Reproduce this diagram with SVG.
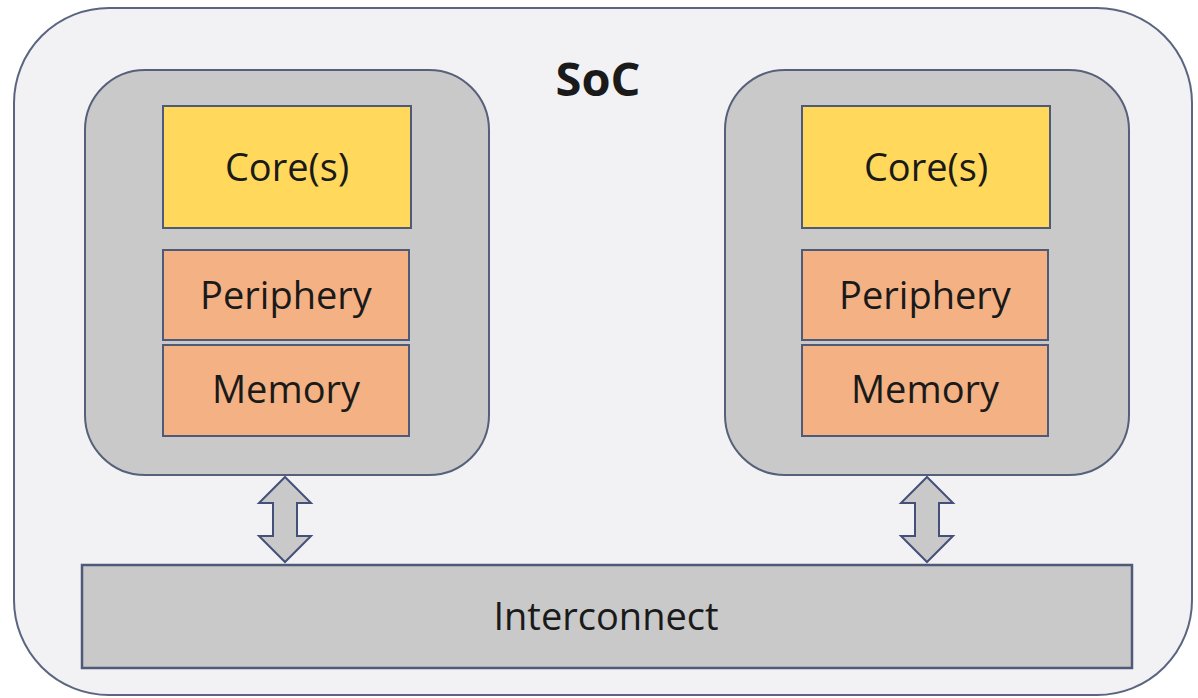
<svg xmlns="http://www.w3.org/2000/svg" width="1198" height="698" viewBox="0 0 1198 698">
<style>
  .soc { fill: #f2f2f4; stroke: #5b6580; stroke-width: 2; }
  .sub { fill: #c9c9c9; stroke: #56607a; stroke-width: 2; }
  .core { fill: #ffd85c; stroke: #4f5a78; stroke-width: 2; }
  .mem { fill: #f4b183; stroke: #4f5a78; stroke-width: 2; }
  .ic { fill: #c9c9c9; stroke: #4f5a78; stroke-width: 2.5; }
  .arrow { fill: #c9c9c9; stroke: #44507a; stroke-width: 2; stroke-linejoin: miter; }
  text { font-family: "Open Sans", "Noto Sans", sans-serif; fill: #1a1a1a; text-anchor: middle; dominant-baseline: central; }
  .lbl { font-size: 38px; }
  .title { font-size: 47px; font-weight: bold; }
</style>
<g id="soc">
  <rect class="soc" x="14" y="8" width="1178" height="687" rx="95" ry="95"/>
  <text class="title" x="598" y="78">SoC</text>
</g>
<g id="subsystem-left">
  <rect class="sub" x="85" y="70" width="404" height="405" rx="60" ry="60"/>
</g>
<g id="core-left">
  <rect class="core" x="163" y="106" width="248" height="122"/>
  <text class="lbl" x="287" y="166">Core(s)</text>
</g>
<g id="periphery-left">
  <rect class="mem" x="163" y="250" width="246" height="90"/>
  <text class="lbl" x="286" y="294">Periphery</text>
</g>
<g id="memory-left">
  <rect class="mem" x="163" y="345" width="246" height="91"/>
  <text class="lbl" x="286" y="388">Memory</text>
</g>
<g id="subsystem-right">
  <rect class="sub" x="725" y="70" width="404" height="405" rx="60" ry="60"/>
</g>
<g id="core-right">
  <rect class="core" x="802" y="106" width="248" height="122"/>
  <text class="lbl" x="926" y="166">Core(s)</text>
</g>
<g id="periphery-right">
  <rect class="mem" x="802" y="250" width="246" height="90"/>
  <text class="lbl" x="925" y="294">Periphery</text>
</g>
<g id="memory-right">
  <rect class="mem" x="802" y="345" width="246" height="91"/>
  <text class="lbl" x="925" y="388">Memory</text>
</g>
<g id="interconnect">
  <rect class="ic" x="82" y="565" width="1050" height="103"/>
  <text class="lbl" x="606" y="615">Interconnect</text>
</g>
<g id="connectors">
  <path class="arrow" d="M285,477 L311,503 L297,503 L297,536 L311,536 L285,562 L259,536 L273,536 L273,503 L259,503 Z"/>
  <path class="arrow" d="M927,477 L953,503 L939,503 L939,536 L953,536 L927,562 L901,536 L915,536 L915,503 L901,503 Z"/>
</g>
</svg>
